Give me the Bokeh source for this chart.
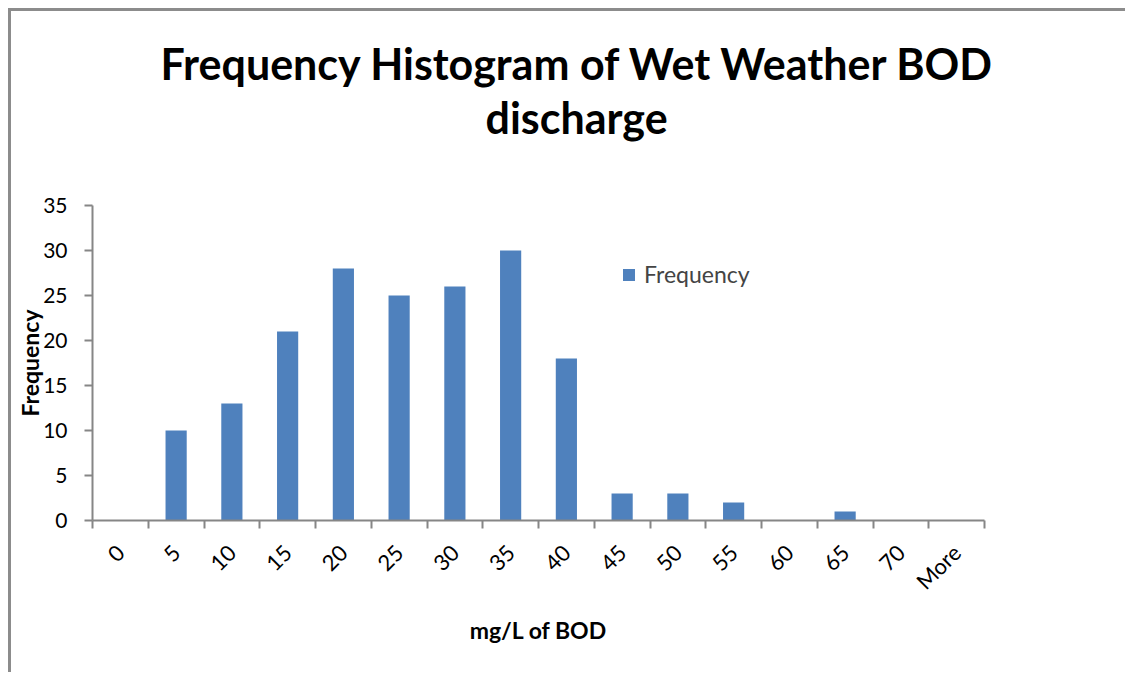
import math
from bokeh.plotting import figure
from bokeh.models import Range1d, FixedTicker, Title, Legend, LegendItem, ColumnDataSource
from bokeh.embed import file_html
from bokeh.resources import INLINE

# ---- data ----
bins = ["0", "5", "10", "15", "20", "25", "30", "35", "40", "45", "50", "55", "60", "65", "70", "More"]
frequency = [0, 10, 13, 21, 28, 25, 26, 30, 18, 3, 3, 2, 0, 1, 0, 0]
y_ticks = [0, 5, 10, 15, 20, 25, 30, 35]
title_line1 = "Frequency Histogram of Wet Weather BOD"
title_line2 = "discharge"
x_label = "mg/L of BOD"
y_label = "Frequency"
series_name = "Frequency"

FONT = "Lato"
GRAY = "#868686"
BAR = "#4F81BD"

idx = list(range(len(bins)))
src = ColumnDataSource(dict(x=idx, top=frequency, label=bins))

p = figure(width=1117, height=664, output_backend="svg", toolbar_location=None,
           x_range=Range1d(-0.5, len(bins) - 0.5), y_range=Range1d(0, y_ticks[-1]),
           min_border_left=81, min_border_right=144, min_border_top=194, min_border_bottom=155,
           title=title_line1)
p.styles = {"border-top": "3px solid #8c8c8c", "border-left": "3px solid #8c8c8c",
            "margin-left": "8px", "margin-top": "8px"}
p.outline_line_color = None
p.xgrid.visible = False
p.ygrid.visible = False

title_style = dict(text_font=FONT, text_font_size="43px", text_font_style="bold",
                   text_color="black", align="left")
# main title (outermost panel)
p.title.update(offset=68, standoff=2, **title_style)
# panels added to "above" stack outward from the plot area: spacer first, then line 2
p.add_layout(Title(text=" ", offset=0, standoff=10, **title_style), "above")
p.add_layout(Title(text=title_line2, offset=393, standoff=0, **title_style), "above")

r = p.vbar(x="x", top="top", width=0.38, source=src, fill_color=BAR, line_color=None)

# x axis
xa = p.xaxis[0]
xa.ticker = FixedTicker(ticks=idx, minor_ticks=[i - 0.5 for i in range(len(bins) + 1)])
xa.major_label_overrides = {i: b for i, b in zip(idx, bins)}
xa.major_tick_out = 0
xa.major_tick_in = 0
xa.minor_tick_out = 8
xa.minor_tick_in = 0
xa.minor_tick_line_color = GRAY
xa.minor_tick_line_width = 2
xa.axis_line_color = GRAY
xa.axis_line_width = 2
xa.major_label_orientation = math.pi / 4
xa.major_label_text_font = FONT
xa.major_label_text_font_size = "22px"
xa.major_label_text_color = "black"
xa.major_label_standoff = 20
xa.axis_label = x_label
xa.axis_label_text_font = FONT
xa.axis_label_text_font_style = "bold"
xa.axis_label_text_font_size = "23px"
xa.axis_label_text_color = "black"
xa.axis_label_standoff = 9

# y axis
ya = p.yaxis[0]
ya.ticker = FixedTicker(ticks=y_ticks)
ya.major_tick_out = 8
ya.major_tick_in = 0
ya.minor_tick_out = 0
ya.minor_tick_in = 0
ya.major_tick_line_color = GRAY
ya.major_tick_line_width = 2
ya.axis_line_color = GRAY
ya.axis_line_width = 2
ya.major_label_text_font = FONT
ya.major_label_text_font_size = "21px"
ya.major_label_text_color = "black"
ya.major_label_standoff = 17
ya.axis_label = y_label
ya.axis_label_text_font = FONT
ya.axis_label_text_font_style = "bold"
ya.axis_label_text_font_size = "23px"
ya.axis_label_text_color = "black"
ya.axis_label_standoff = -4

legend = Legend(items=[LegendItem(label=series_name, renderers=[r])], location=(529, 232),
                border_line_color=None, background_fill_alpha=0, padding=0, margin=0,
                glyph_width=15, glyph_height=15, label_standoff=8,
                label_text_font=FONT, label_text_font_size="23px")
p.add_layout(legend)

open("out.html", "w").write(file_html(p, INLINE))
